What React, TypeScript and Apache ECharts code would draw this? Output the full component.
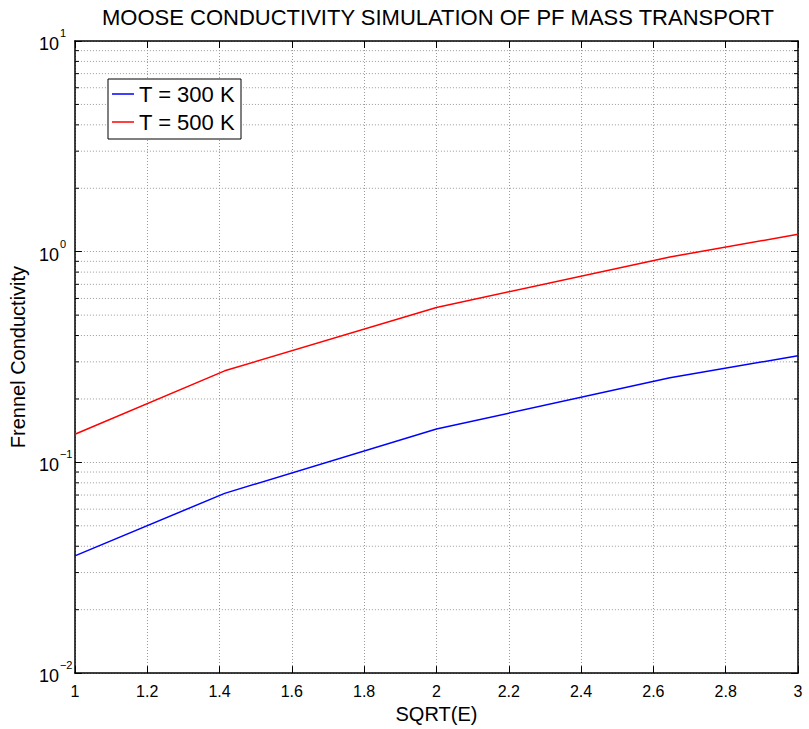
import React, { useEffect, useRef } from "react";
import * as echarts from "echarts";

const titleText = "MOOSE CONDUCTIVITY SIMULATION OF PF MASS TRANSPORT";
const xName = "SQRT(E)";
const yName = "Frennel Conductivity";
const seriesNames = ["T = 300 K", "T = 500 K"];
const sqrtE = [1, 1.4142, 2, 2.6458, 3];
const cond300 = [0.036, 0.0713, 0.144, 0.252, 0.321];
const cond500 = [0.136, 0.272, 0.544, 0.944, 1.21];
const minorValues = [
  0.02, 0.03, 0.04, 0.05, 0.06, 0.07, 0.08, 0.09,
  0.2, 0.3, 0.4, 0.5, 0.6, 0.7, 0.8, 0.9,
  2, 3, 4, 5, 6, 7, 8, 9,
];
const xMin = 1;
const xMax = 3;
const yMin = 0.01;
const yMax = 10;

const FONT = "'Liberation Sans', Arial, Helvetica, sans-serif";
const GRID_COLOR = "#9a9a9a";

export default function App() {
  const ref = useRef<HTMLDivElement>(null);
  useEffect(() => {
    if (!ref.current) return;
    const chart = echarts.init(ref.current, null, { renderer: "svg" });
    const frameLine = { show: true, lineStyle: { color: "#000", width: 1.5 } };
    const tick = { show: true, inside: true, length: 7, lineStyle: { color: "#000", width: 1 } };
    const dotted = { show: true, lineStyle: { color: GRID_COLOR, width: 1, type: [1, 2] as any } };
    const expLabel = (v: number) => {
      const e = Math.round(Math.log10(v));
      const s = e < 0 ? "\u2212" + -e : String(e);
      return `{b|10}{s|${s}}`;
    };
    chart.setOption({
      animation: false,
      textStyle: { fontFamily: FONT, color: "#000" },
      graphic: [
        {
          type: "text",
          x: 438,
          y: 6,
          style: {
            text: titleText,
            font: `22px ${FONT}`,
            fill: "#000",
            textAlign: "center",
            textVerticalAlign: "top",
          },
        },
      ],
      grid: { left: 74, right: 11, top: 41, bottom: 50 },
      legend: {
        data: seriesNames.map((n) => ({ name: n, icon: "rect" })),
        orient: "vertical",
        left: 108,
        top: 79,
        padding: [4, 6, 6, 4],
        itemGap: 6,
        itemWidth: 22,
        itemHeight: 1.5,
        borderColor: "#000",
        borderWidth: 1,
        backgroundColor: "#fff",
        textStyle: { fontSize: 22, lineHeight: 22, color: "#000", fontFamily: FONT },
      },
      xAxis: [
        {
          type: "value",
          min: xMin,
          max: xMax,
          interval: 0.2,
          position: "bottom",
          axisLine: frameLine,
          axisTick: tick,
          axisLabel: {
            fontSize: 16,
            color: "#000",
            margin: 10,
            formatter: (v: number) => String(Math.round(v * 10) / 10),
          },
          splitLine: dotted,
          name: xName,
          nameLocation: "middle",
          nameGap: 18,
          nameTextStyle: { fontSize: 20, color: "#000" },
        },
        {
          type: "value",
          min: xMin,
          max: xMax,
          interval: 0.2,
          position: "top",
          axisLine: frameLine,
          axisTick: tick,
          axisLabel: { show: false },
          splitLine: { show: false },
        },
      ],
      yAxis: [
        {
          type: "log",
          logBase: 10,
          min: yMin,
          max: yMax,
          position: "left",
          axisLine: frameLine,
          axisTick: tick,
          axisLabel: {
            align: "left",
            margin: 36,
            color: "#000",
            formatter: expLabel,
            rich: {
              b: { fontSize: 18, color: "#000", fontFamily: FONT, padding: [6, 0, 0, 0] },
              s: { fontSize: 11, color: "#000", fontFamily: FONT, padding: [0, 0, 16, 1] },
            },
          },
          splitLine: dotted,
          name: yName,
          nameLocation: "middle",
          nameGap: 34,
          nameTextStyle: { fontSize: 20, color: "#000" },
        },
        {
          type: "log",
          logBase: 10,
          min: yMin,
          max: yMax,
          position: "right",
          axisLine: frameLine,
          axisTick: tick,
          axisLabel: { show: false },
          splitLine: { show: false },
        },
      ],
      series: [
        {
          type: "custom",
          name: "minorGrid",
          silent: true,
          z: 1,
          xAxisIndex: 0,
          yAxisIndex: 0,
          data: minorValues.map((v) => [xMin, v]),
          renderItem: (params: any, api: any) => {
            const v = api.value(1);
            const p0 = api.coord([xMin, v]);
            const p1 = api.coord([xMax, v]);
            return {
              type: "group",
              children: [
                {
                  type: "line",
                  shape: { x1: p0[0], y1: p0[1], x2: p1[0], y2: p1[1] },
                  style: { stroke: GRID_COLOR, lineWidth: 1, lineDash: [1, 2] },
                },
                {
                  type: "line",
                  shape: { x1: p0[0], y1: p0[1], x2: p0[0] + 4, y2: p0[1] },
                  style: { stroke: "#000", lineWidth: 1 },
                },
                {
                  type: "line",
                  shape: { x1: p1[0] - 4, y1: p1[1], x2: p1[0], y2: p1[1] },
                  style: { stroke: "#000", lineWidth: 1 },
                },
              ],
            };
          },
        },
        {
          type: "line",
          name: seriesNames[0],
          data: sqrtE.map((x, i) => [x, cond300[i]]),
          symbol: "none",
          z: 3,
          lineStyle: { color: "#0000ff", width: 1.5 },
          itemStyle: { color: "#0000ff" },
        },
        {
          type: "line",
          name: seriesNames[1],
          data: sqrtE.map((x, i) => [x, cond500[i]]),
          symbol: "none",
          z: 3,
          lineStyle: { color: "#ff0000", width: 1.5 },
          itemStyle: { color: "#ff0000" },
        },
      ],
    });
    return () => chart.dispose();
  }, []);
  return (
    <div
      ref={ref}
      style={{ position: "absolute", left: 0, top: 0, width: 809, height: 729, background: "#fff" }}
    />
  );
}
